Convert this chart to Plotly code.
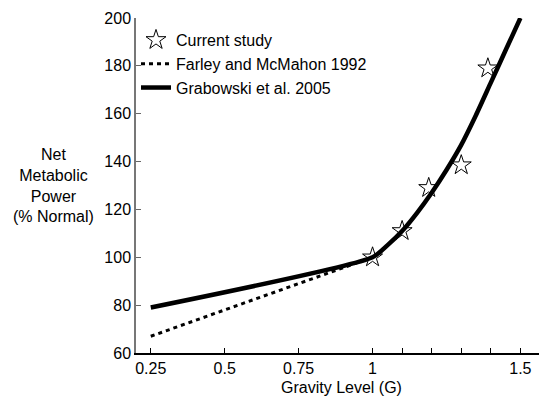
import plotly.graph_objects as go

# Data
study_x = [1.0, 1.1, 1.19, 1.3, 1.39]
study_y = [100, 111, 129, 138.5, 179]

farley_x = [0.25, 1.0]
farley_y = [67, 100]

grab_x = [0.25, 1.0, 1.05, 1.1, 1.15, 1.2, 1.25, 1.3, 1.35, 1.4, 1.45, 1.5]
grab_y = [79, 100, 105, 111, 118.5, 127, 136.5, 147, 159.5, 173, 186.5, 200]

x_tickvals = [0.25, 0.5, 0.75, 1.0, 1.1, 1.2, 1.3, 1.4, 1.5]
x_ticktext = ["0.25", "0.5", "0.75", "1", "", "", "", "", "1.5"]
y_tickvals = [60, 80, 100, 120, 140, 160, 180, 200]

FONT = "Liberation Sans, Arial, sans-serif"

fig = go.Figure()
fig.add_trace(go.Scatter(
    x=farley_x, y=farley_y, mode="lines", name="Farley and McMahon 1992",
    line=dict(color="black", width=3, dash="4px,4px"), legendrank=2,
))
fig.add_trace(go.Scatter(
    x=grab_x, y=grab_y, mode="lines", name="Grabowski et al. 2005",
    line=dict(color="black", width=4.5, shape="spline", smoothing=0.6), legendrank=3,
))
fig.add_trace(go.Scatter(
    x=study_x, y=study_y, mode="markers", name="Current study",
    marker=dict(symbol="star-open", size=15, color="black", line=dict(width=1, color="black")),
    legendrank=1,
))

# The page body has an 8px default margin; size the figure to fit the window.
fig.update_layout(
    width=539, height=388,
    margin=dict(l=128, r=0, t=10, b=43),
    paper_bgcolor="white", plot_bgcolor="white",
    font=dict(family=FONT, size=16, color="black"),
    showlegend=True,
    legend=dict(
        x=0.0, y=0.985, xanchor="left", yanchor="top",
        bgcolor="rgba(0,0,0,0)", borderwidth=0,
        font=dict(size=16, family=FONT),
        traceorder="normal", tracegroupgap=0,
        itemwidth=30,
    ),
    xaxis=dict(
        range=[0.2, 1.59], tickvals=x_tickvals, ticktext=x_ticktext,
        ticks="inside", ticklen=5, tickcolor="black", tickwidth=1,
        showline=True, linecolor="black", linewidth=1.5,
        showgrid=False, zeroline=False,
        title=dict(text="Gravity Level (G)", standoff=6, font=dict(size=16)),
        tickfont=dict(size=16), automargin=False,
    ),
    yaxis=dict(
        range=[60, 200], tickvals=y_tickvals,
        ticks="inside", ticklen=5, tickcolor="#666666", tickwidth=1,
        showline=True, linecolor="#777777", linewidth=1.5,
        showgrid=False, zeroline=False,
        tickfont=dict(size=16), automargin=False,
    ),
    annotations=[dict(
        text="Net<br>Metabolic<br>Power<br>(% Normal)",
        xref="paper", yref="paper", x=-0.2, y=0.5,
        xanchor="center", yanchor="middle", showarrow=False,
        font=dict(size=16, family=FONT), align="center",
    )],
)

fig.write_html("out.html")
